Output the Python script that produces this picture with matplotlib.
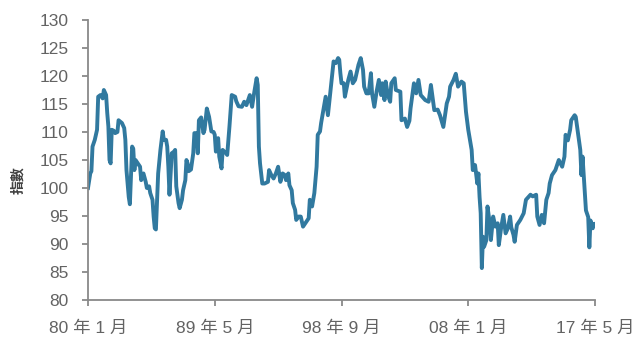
import numpy as np
import matplotlib
matplotlib.use("Agg")
import matplotlib.pyplot as plt

plt.rcParams['font.family'] = ['Liberation Sans', 'Noto Sans CJK TC', 'DejaVu Sans']

# months counted from Jan 1980, index level read at each month
months = [0, 2, 3, 4, 6, 8, 9, 11, 13, 14, 16, 17, 18, 19, 20, 21, 23, 24, 26, 27,
          30, 32, 33, 34, 36, 37, 39, 40, 41, 42, 44, 46, 47, 49, 51, 52, 54, 55, 57, 58,
          59, 60, 62, 64, 66, 67, 69, 70, 71, 72, 74, 76, 77, 78, 80, 81, 83, 84, 86, 87,
          88, 89, 91, 93, 94, 96, 97, 98, 100, 102, 103, 105, 107, 109, 111, 112, 113, 115, 116, 118,
          119, 122, 123, 125, 127, 130, 131, 133, 136, 138, 140, 143, 145, 147, 149, 150, 151, 152, 154, 156,
          159, 160, 162, 164, 166, 168, 170, 172, 174, 175, 177, 178, 180, 181, 183, 184, 186, 188, 190, 192,
          195, 196, 198, 200, 202, 203, 205, 206, 208, 210, 212, 214, 215, 217, 219, 221, 222, 223, 224, 226,
          227, 230, 232, 234, 236, 239, 241, 243, 244, 246, 248, 250, 251, 253, 255, 257, 259, 260, 262, 263,
          265, 267, 268, 271, 272, 276, 277, 280, 282, 284, 285, 288, 290, 292, 294, 298, 301, 303, 306, 309,
          311, 314, 317, 319, 320, 323, 325, 327, 330, 332, 334, 336, 339, 340, 342, 344, 345, 346, 347, 348,
          349, 350, 352, 353, 355, 356, 358, 360, 362, 363, 365, 367, 369, 371, 373, 374, 376, 377, 379, 382,
          385, 387, 391, 393, 396, 397, 399, 401, 403, 405, 407, 408, 410, 413, 416, 419, 421, 422, 424, 426,
          427, 429, 430, 431, 435, 436, 437, 440, 442, 443, 444, 446, 447, 448]
index = [100.0, 102.6, 103.0, 107.4, 108.6, 110.4, 116.3, 116.6, 116.0, 117.5, 116.6, 113.4, 111.0, 105.0, 104.4, 110.4, 110.2, 109.8, 110.0, 112.1,
         111.6, 110.7, 108.6, 103.2, 98.4, 97.1, 107.4, 107.0, 103.2, 105.0, 104.4, 103.8, 101.4, 102.6, 101.1, 100.0, 100.3, 99.1, 97.9, 94.9,
         92.8, 92.6, 102.6, 106.8, 110.1, 108.6, 108.6, 107.4, 103.8, 98.8, 106.2, 106.5, 106.8, 100.3, 97.3, 96.4, 97.9, 99.6, 101.4, 105.0,
         104.4, 103.0, 103.3, 106.2, 109.8, 109.8, 106.2, 112.1, 112.6, 109.8, 110.4, 114.2, 112.7, 110.1, 110.0, 109.5, 106.5, 108.9, 105.6, 103.5,
         106.8, 106.2, 105.9, 111.0, 116.6, 116.3, 115.5, 114.6, 114.5, 115.4, 114.8, 116.6, 114.5, 117.2, 119.6, 118.4, 107.4, 104.4, 100.8, 100.8,
         101.1, 103.2, 102.3, 101.7, 102.6, 103.8, 101.1, 102.6, 102.3, 101.4, 102.6, 100.5, 99.6, 97.3, 96.1, 94.3, 94.9, 94.9, 93.1, 93.7,
         94.6, 97.9, 96.7, 99.1, 103.8, 109.5, 110.1, 111.6, 113.9, 116.3, 113.0, 116.9, 118.7, 122.6, 122.3, 123.2, 122.9, 120.5, 118.7, 118.7,
         116.3, 119.3, 120.8, 118.7, 119.3, 122.0, 123.2, 121.1, 118.1, 116.9, 116.9, 120.5, 116.9, 114.5, 117.2, 119.3, 116.6, 118.7, 115.7, 119.0,
         116.6, 115.4, 118.7, 119.6, 117.5, 117.2, 112.1, 112.4, 110.9, 112.0, 114.2, 118.7, 116.9, 119.3, 116.6, 115.7, 115.4, 118.4, 113.9, 114.0,
         113.0, 110.9, 115.1, 116.3, 118.1, 119.3, 120.4, 118.1, 119.0, 118.7, 113.6, 110.4, 106.8, 103.2, 104.1, 100.8, 102.6, 98.4, 95.5, 85.7,
         91.3, 89.5, 90.7, 96.7, 93.7, 90.7, 94.9, 93.1, 93.7, 89.8, 92.8, 95.2, 91.9, 92.8, 94.9, 93.0, 91.6, 90.4, 93.4, 94.3,
         95.5, 97.9, 98.8, 98.5, 98.8, 94.9, 93.4, 95.2, 93.7, 97.9, 99.1, 100.8, 102.3, 103.2, 105.0, 103.8, 105.6, 109.5, 108.5, 110.4,
         112.1, 112.7, 113.0, 112.7, 106.8, 102.3, 105.6, 96.0, 94.8, 89.4, 94.2, 92.8, 93.6, 93.6]

tick_months = [0, 112, 224, 336, 448]
tick_labels = ['80 年 1 月', '89 年 5 月', '98 年 9 月', '08 年 1 月', '17 年 5 月']
y_ticks = list(range(80, 131, 5))

line_color = '#31799f'
axis_color = '#898989'
text_color = '#636363'

fig = plt.figure(figsize=(6.38, 3.38), dpi=100)
ax = fig.add_axes([88/638, 38/338, 507/638, 280/338])

ax.plot(months, index, color=line_color, linewidth=2.8, solid_joinstyle='round')

ax.set_xlim(0, 448)
ax.set_ylim(80, 130)
ax.set_xticks(tick_months)
ax.set_xticklabels(tick_labels)
ax.set_yticks(y_ticks)

for side in ['top', 'right']:
    ax.spines[side].set_visible(False)
for side in ['left', 'bottom']:
    ax.spines[side].set_color(axis_color)
    ax.spines[side].set_linewidth(1.3)

ax.tick_params(axis='y', direction='out', length=4, width=1.3, color=axis_color,
               labelcolor=text_color, labelsize=12.5, pad=10)
ax.tick_params(axis='x', direction='out', length=4, width=1.3, color=axis_color,
               labelcolor=text_color, labelsize=12.5, pad=11)

fig.text(18/638, 1 - 180/338, '指數', rotation=90, ha='center', va='center',
         fontsize=10, fontweight='bold', color='#404040')

fig.savefig('out.png', dpi=100)
